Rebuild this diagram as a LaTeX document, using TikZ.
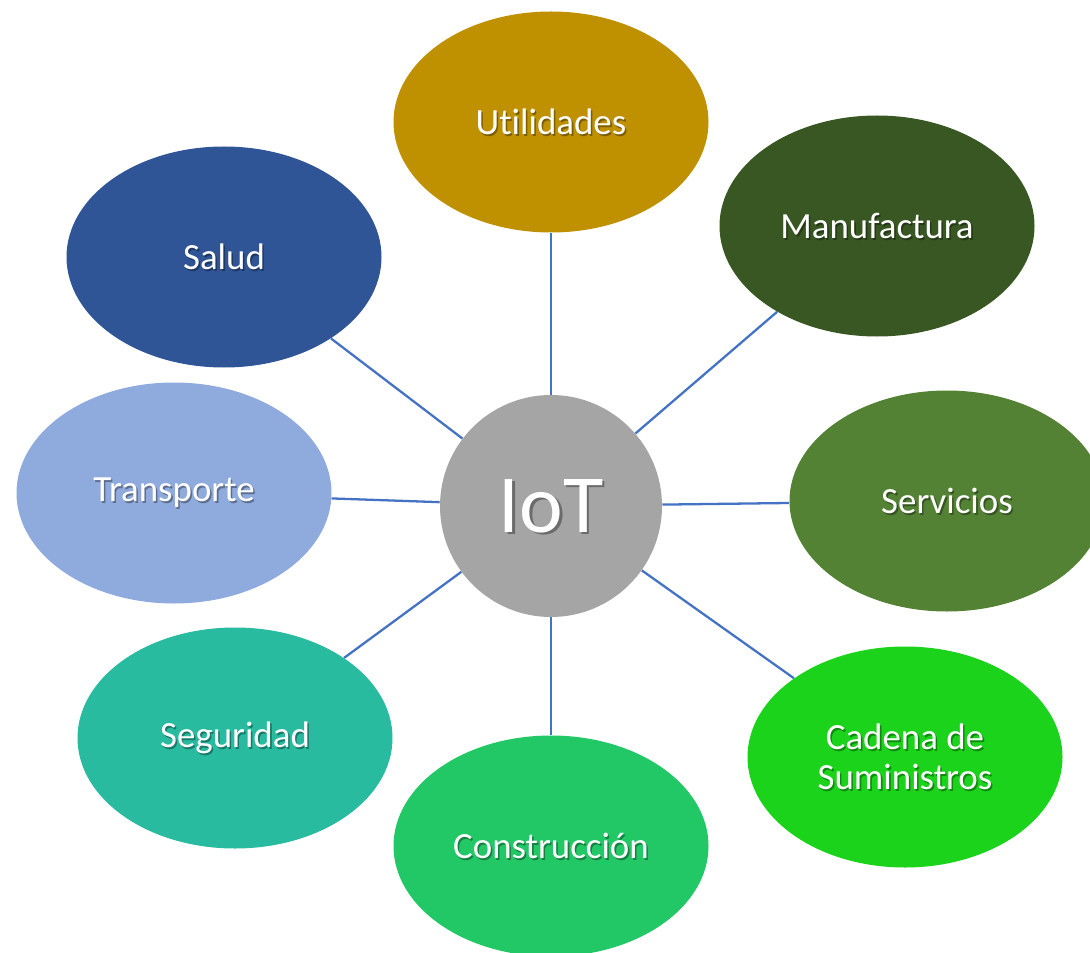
\documentclass[tikz,border=0pt]{standalone}
\usepackage{fontspec}
\setmainfont{Carlito}[Ligatures=NoCommon]
\usepackage{xcolor}
\usetikzlibrary{shapes.geometric}

\definecolor{oro}{HTML}{BF9000}
\definecolor{verdeosc}{HTML}{385723}
\definecolor{verdemed}{HTML}{548235}
\definecolor{azulosc}{HTML}{2F5597}
\definecolor{azulcla}{HTML}{8FAADC}
\definecolor{gris}{HTML}{A5A5A5}
\definecolor{turq}{HTML}{28BBA0}
\definecolor{verdecon}{HTML}{22C766}
\definecolor{verdelim}{HTML}{1AD31A}
\definecolor{enlace}{HTML}{4472C4}

\tikzset{
  area/.style={ellipse,minimum width=6.3cm,minimum height=4.42cm,inner sep=0pt},
  centro/.style={circle,fill=gris,minimum size=4.44cm,inner sep=0pt},
  txt/.style={text=white,align=center,font=\fontsize{21}{22.5}\selectfont},
  sombra/.style={txt,text=black,text opacity=0.35},
  enl/.style={enlace,line width=1.3pt}
}

\begin{document}
\begin{tikzpicture}
\useasboundingbox (0,0) rectangle (21.8,-19.06);
\clip (0,0) rectangle (21.8,-19.06);
% nodos
\node[centro] (iot) at (11.02,-10.12) {};
\node[area,fill=oro] (utl) at (11.02,-2.44) {};
\node[area,fill=verdeosc] (man) at (17.54,-4.52) {};
\node[area,fill=azulosc] (sal) at (4.48,-5.14) {};
\node[area,fill=azulcla] (tra) at (3.48,-9.86) {};
\node[area,fill=verdemed] (ser) at (18.94,-10.02) {};
\node[area,fill=turq] (seg) at (4.70,-14.76) {};
\node[area,fill=verdecon] (con) at (11.02,-16.92) {};
\node[area,fill=verdelim] (cad) at (18.10,-15.14) {};
% enlaces
\foreach \n in {utl,man,sal,tra,ser,seg,con,cad}
  \draw[enl] (iot) -- (\n);
% textos
\foreach \n/\t in {utl/Utilidades,man/Manufactura,sal/Salud,tra/Transporte,
  ser/Servicios,seg/Seguridad,con/Construcción,cad/{Cadena de\\Suministros}}{
  \node[sombra] at ([shift={(0.9pt,-0.9pt)}]\n) {\t};
  \node[txt] at (\n) {\t};
}
\node[sombra,font=\fontsize{47}{50}\selectfont] at ([shift={(1.5pt,-1.5pt)}]iot) {IoT};
\node[txt,font=\fontsize{47}{50}\selectfont] at (iot) {IoT};
\end{tikzpicture}
\end{document}
